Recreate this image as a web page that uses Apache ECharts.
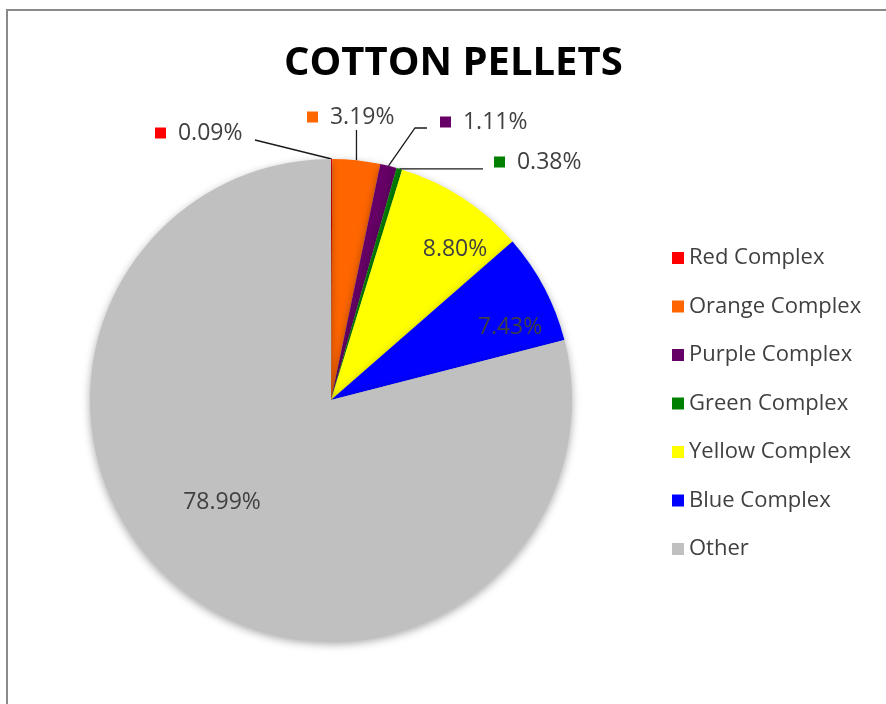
<!DOCTYPE html>
<html>
<head>
<meta charset="utf-8">
<script src="https://cdn.jsdelivr.net/npm/echarts@6/dist/echarts.min.js"></script>
<style>
  html, body { margin: 0; padding: 0; background: #fff; }
  #frame { position: absolute; left: 6px; top: 9px; width: 900px; height: 720px;
           border-left: 2px solid #8a8a8a; border-top: 2px solid #8a8a8a; box-sizing: border-box; }
  #chart { position: absolute; left: 0; top: 0; width: 886px; height: 704px; }
</style>
</head>
<body>
<div id="frame"></div>
<div id="chart"></div>
<script>
// ---- data ----
const categories = ['Red Complex', 'Orange Complex', 'Purple Complex', 'Green Complex', 'Yellow Complex', 'Blue Complex', 'Other'];
const values = [0.09, 3.19, 1.11, 0.38, 8.80, 7.43, 78.99];
const colors = ['#ff0000', '#ff6600', '#660066', '#008000', '#ffff00', '#0000ff', '#c0c0c0'];
const valueLabels = ['0.09%', '3.19%', '1.11%', '0.38%', '8.80%', '7.43%', '78.99%'];
const outsideFlags = [true, true, true, true, false, false, false];

const CX = 331, CY = 400, R = 241;
// label placement (relative to pie centre) for Excel-like layout
const labelOffsets = [
  { dx: -176, dy: -267, align: 'left' },   // red
  { dx: -24,  dy: -283, align: 'left' },   // orange
  { dx: 109,  dy: -278, align: 'left' },   // purple
  { dx: 163,  dy: -238, align: 'left' },   // green
  { dx: 124,  dy: -151, align: 'center' }, // yellow
  { dx: 179,  dy: -73,  align: 'center' }, // blue
  { dx: -109, dy: 102,  align: 'center' }  // other
];

const chart = echarts.init(document.getElementById('chart'), null, { renderer: 'canvas' });

const data = categories.map((name, i) => {
  const outside = outsideFlags[i];
  return {
    name: name,
    value: values[i],
    itemStyle: { color: colors[i] },
    label: outside ? {
      show: true,
      position: 'outside',
      formatter: '{sq|}  ' + valueLabels[i],
      rich: { sq: { width: 11, height: 11, backgroundColor: colors[i] } }
    } : {
      show: true,
      position: 'inside',
      formatter: valueLabels[i]
    },
    labelLine: { show: outside, lineStyle: { color: '#1a1a1a', width: 1.3 } }
  };
});

const option = {
  animation: false,
  backgroundColor: 'transparent',
  title: {
    text: 'COTTON PELLETS',
    left: 284,
    top: 44,
    padding: [0, 0, 0, 0],
    textStyle: { fontFamily: 'Open Sans', fontWeight: 'bold', fontSize: 40, color: '#000' }
  },
  legend: {
    orient: 'vertical',
    left: 667,
    top: 242,
    icon: 'rect',
    itemWidth: 12,
    itemHeight: 12,
    itemGap: 26.5,
    textStyle: { fontFamily: 'Open Sans', fontSize: 22, color: '#404040', lineHeight: 22, padding: [0, 0, 0, 0] },
    data: categories
  },
  series: [{
    type: 'pie',
    center: [CX, CY],
    radius: R,
    startAngle: 90,
    clockwise: true,
    avoidLabelOverlap: false,
    itemStyle: { shadowBlur: 8, shadowOffsetY: 3, shadowColor: 'rgba(0,0,0,0.35)' },
    label: { fontFamily: 'Open Sans', fontSize: 23, color: '#404040' },
    labelLine: { length: 20, length2: 20 },
    labelLayout: function (params) {
      const i = params.dataIndex;
      const o = labelOffsets[i];
      const res = { x: CX + o.dx, y: CY + o.dy, align: o.align, verticalAlign: 'middle' };
      const pts = params.labelLinePoints;
      if (outsideFlags[i] && pts) {
        const a = pts[0];
        if (i === 0) res.labelLinePoints = [a, [CX - 76, CY - 260], [CX - 76, CY - 260]];
        else if (i === 1) res.labelLinePoints = [a, [a[0], CY - 270], [a[0], CY - 270]];
        else if (i === 2) res.labelLinePoints = [a, [CX + 84, CY - 272], [CX + 96, CY - 272]];
        else if (i === 3) res.labelLinePoints = [a, [a[0] + 40, a[1]], [CX + 152, a[1]]];
      }
      return res;
    },
    data: data
  }]
};
chart.setOption(option);
</script>
</body>
</html>
